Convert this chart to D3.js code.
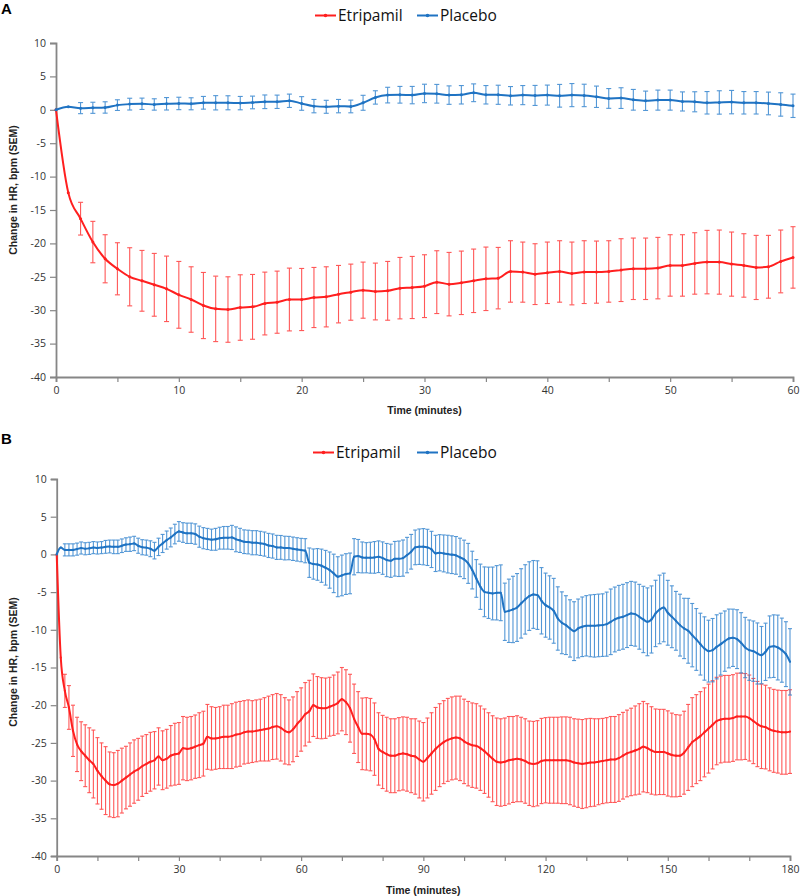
<!DOCTYPE html>
<html><head><meta charset="utf-8">
<script src="https://cdn.jsdelivr.net/npm/d3@7"></script>
<style>body{margin:0;background:#fff} svg{display:block}</style>
</head><body>
<svg id="chart" width="800" height="896"></svg>
<script>
// ---------------- DATA ----------------
const seriesNames = ["Etripamil", "Placebo"];
const yTicks = [-40, -35, -30, -25, -20, -15, -10, -5, 0, 5, 10];

// Panel A: one point per minute, 0..60
const timeA = d3.range(0, 61);
const etriMeanA = [0,-12.4,-16.3,-19.8,-22.3,-23.8,-25.0,-25.6,-26.2,-26.8,-27.7,
 -28.4,-29.3,-29.8,-29.9,-29.6,-29.5,-29.0,-28.8,-28.4,-28.4,
 -28.1,-28.0,-27.6,-27.3,-27.0,-27.2,-27.1,-26.7,-26.6,-26.4,
 -25.8,-26.1,-25.9,-25.6,-25.3,-25.2,-24.2,-24.3,-24.6,-24.4,
 -24.2,-24.5,-24.3,-24.3,-24.2,-24.0,-23.8,-23.8,-23.7,-23.3,
 -23.3,-23.0,-22.8,-22.8,-23.1,-23.3,-23.6,-23.5,-22.7,-22.1];
const etriSemA = [null,null,2.45,3.1,3.6,3.9,4.35,4.55,4.7,4.9,5.0,
 4.9,4.95,4.9,4.9,4.9,4.85,4.7,4.65,4.7,4.65,
 4.5,4.5,4.3,4.2,4.2,4.25,4.4,4.6,4.65,4.7,
 4.7,4.75,4.75,4.75,4.75,4.6,4.6,4.5,4.55,4.6,
 4.6,4.7,4.7,4.65,4.6,4.7,4.6,4.6,4.6,4.6,
 4.6,4.6,4.75,4.8,4.8,4.75,4.8,4.7,4.7,4.6];
const placMeanA = [0,0.45,0.25,0.3,0.35,0.7,0.85,0.9,0.8,0.9,0.95,
 0.9,1.05,1.05,1.05,1.0,1.1,1.2,1.2,1.35,0.95,
 0.55,0.45,0.55,0.5,1.05,1.85,2.2,2.25,2.2,2.45,
 2.4,2.2,2.25,2.55,2.25,2.25,2.1,2.2,2.15,2.2,
 2.1,2.2,2.15,1.95,1.7,1.75,1.5,1.35,1.45,1.45,
 1.25,1.2,1.05,1.1,1.15,1.05,1.05,0.95,0.8,0.6];
const placSemA = [null,null,0.83,0.83,0.85,0.8,0.88,0.85,0.85,0.93,0.93,
 0.9,0.95,1.07,1.05,1.0,0.95,1.02,1.0,1.0,1.02,
 1.0,0.97,1.0,0.95,1.12,1.0,1.17,1.25,1.3,1.38,
 1.4,1.38,1.38,1.33,1.38,1.43,1.38,1.43,1.5,1.5,
 1.7,1.73,1.68,1.6,1.48,1.55,1.55,1.45,1.5,1.5,
 1.43,1.5,1.68,1.75,1.75,1.68,1.68,1.7,1.75,1.75];
const xTicksA = [0,5,10,15,20,25,30,35,40,45,50,55,60];
const xLabelsA = [0,10,20,30,40,50,60];

// Panel B: one point per minute, 0..180
const timeB = d3.range(0, 181);
const etriMeanB = [0,-13.7,-18.1,-20.3,-23.4,-25.2,-26.1,-26.7,-27.3,-27.8,
 -28.7,-29.4,-30.0,-30.5,-30.6,-30.4,-30.0,-29.6,-29.2,-28.8,
 -28.5,-28.1,-27.8,-27.5,-27.3,-26.8,-27.3,-27.1,-26.7,-26.5,
 -26.4,-25.7,-25.8,-25.7,-25.5,-25.3,-25.1,-24.2,-24.4,-24.4,
 -24.3,-24.2,-24.2,-24.1,-23.9,-23.8,-23.6,-23.5,-23.5,-23.4,
 -23.3,-23.2,-23.1,-22.9,-22.8,-23.0,-23.4,-23.6,-23.2,-22.5,
 -21.9,-21.2,-20.8,-20.0,-20.3,-20.4,-20.4,-20.2,-20.0,-19.7,
 -19.2,-19.6,-20.4,-21.8,-22.9,-23.8,-23.8,-23.9,-24.5,-25.8,
 -26.2,-26.5,-26.7,-26.7,-26.5,-26.4,-26.5,-26.7,-26.8,-27.2,
 -27.5,-27.0,-26.4,-25.8,-25.3,-24.9,-24.6,-24.4,-24.3,-24.4,
 -24.8,-25.1,-25.3,-25.4,-25.7,-26.1,-26.6,-27.1,-27.5,-27.6,
 -27.5,-27.3,-27.2,-27.1,-27.2,-27.4,-27.7,-27.8,-27.7,-27.4,
 -27.3,-27.3,-27.3,-27.3,-27.3,-27.3,-27.4,-27.6,-27.7,-27.8,
 -27.7,-27.6,-27.6,-27.5,-27.4,-27.3,-27.2,-27.2,-27.0,-26.7,
 -26.4,-26.2,-26.0,-25.8,-25.5,-25.7,-26.0,-26.2,-26.2,-26.2,
 -26.4,-26.6,-26.7,-26.7,-26.3,-25.6,-24.9,-24.5,-24.1,-23.6,
 -23.1,-22.6,-22.1,-21.9,-21.8,-21.8,-21.7,-21.5,-21.5,-21.5,
 -21.7,-22.1,-22.5,-22.8,-22.9,-23.2,-23.4,-23.5,-23.6,-23.6,
 -23.5];
const etriSemB = [null,null,2.2,2.9,3.4,3.6,3.9,4.1,4.3,4.5,
 4.4,4.4,4.5,4.3,4.3,4.4,4.3,4.15,4.2,4.2,
 4.1,4.0,3.9,3.9,3.8,3.8,3.9,3.9,4.0,4.1,
 4.1,4.2,4.2,4.2,4.2,4.3,4.3,4.3,4.2,4.1,
 4.1,4.2,4.2,4.3,4.3,4.3,4.2,4.2,4.1,4.1,
 4.1,4.2,4.3,4.3,4.35,4.4,4.4,4.3,4.3,4.3,
 4.2,4.2,4.1,4.15,4.1,4.05,4.0,3.9,4.0,4.1,
 4.2,4.3,4.5,4.6,4.7,4.75,4.8,4.8,4.8,4.8,
 4.85,4.9,4.9,4.9,4.85,4.85,4.9,4.9,5.0,5.1,
 5.2,5.3,5.4,5.5,5.5,5.5,5.5,5.5,5.5,5.6,
 5.6,5.6,5.6,5.6,5.6,5.6,5.6,5.7,5.8,5.8,
 5.8,5.8,5.7,5.7,5.6,5.6,5.6,5.65,5.65,5.65,
 5.65,5.7,5.7,5.7,5.75,5.75,5.8,5.8,5.85,5.9,
 5.9,5.85,5.8,5.7,5.65,5.65,5.7,5.7,5.75,5.75,
 5.75,5.8,5.9,6.0,6.0,5.9,5.8,5.7,5.65,5.65,
 5.65,5.55,5.45,5.4,5.5,5.7,5.9,5.9,5.9,5.9,
 5.9,5.85,5.8,5.75,5.75,5.75,5.75,5.75,5.75,5.7,
 5.7,5.65,5.65,5.6,5.55,5.5,5.5,5.5,5.55,5.55,
 5.55];
const placMeanB = [0,0.9,0.6,0.6,0.6,0.7,0.85,0.75,0.8,0.9,
 0.85,0.9,1.0,1.05,1.0,1.0,1.15,1.3,1.35,1.45,
 1.15,0.95,0.9,0.75,0.5,1.0,1.45,1.9,2.25,2.7,
 3.05,2.9,2.8,2.8,2.7,2.35,2.15,2.05,1.95,2.0,
 2.15,2.2,2.2,2.25,2.0,1.86,1.68,1.64,1.55,1.55,
 1.46,1.37,1.19,1.11,0.93,0.93,0.84,0.84,0.75,0.66,
 0.58,0.49,-1.1,-1.28,-1.33,-1.5,-1.77,-2.08,-2.52,-2.96,
 -2.79,-2.61,-2.52,-0.31,-0.22,-0.4,-0.44,-0.44,-0.4,-0.31,
 -0.49,-0.75,-0.84,-0.58,-0.58,-0.49,-0.09,0.35,0.93,1.02,
 1.02,0.93,0.66,0.13,0.22,0.13,0.04,-0.04,-0.13,-0.4,
 -0.66,-1.19,-2.08,-3.19,-4.29,-4.96,-5.09,-5.18,-5.09,-5.09,
 -7.61,-7.48,-7.3,-7.04,-6.5,-5.97,-5.53,-5.31,-5.4,-6.15,
 -6.73,-7.04,-7.48,-8.5,-9.07,-9.38,-9.82,-10.18,-9.82,-9.6,
 -9.47,-9.47,-9.47,-9.42,-9.38,-9.25,-8.94,-8.63,-8.41,-8.27,
 -8.05,-7.83,-7.92,-8.27,-8.63,-8.94,-8.63,-7.83,-7.3,-7.04,
 -7.74,-8.27,-8.81,-9.38,-9.82,-10.13,-10.71,-11.28,-11.9,-12.48,
 -12.83,-12.7,-12.26,-11.9,-11.5,-11.15,-11.06,-11.24,-11.73,-12.35,
 -12.7,-12.83,-13.14,-13.36,-12.92,-12.26,-12.17,-12.35,-12.7,-13.23,
 -14.25];
const placSemB = [null,null,0.8,0.8,0.8,0.8,0.8,0.8,0.8,0.8,
 0.8,0.8,0.85,0.85,0.9,0.9,0.9,0.9,0.95,0.95,
 1.0,1.0,1.0,1.05,1.1,1.15,1.2,1.2,1.25,1.3,
 1.3,1.3,1.35,1.35,1.35,1.4,1.4,1.4,1.4,1.45,
 1.45,1.5,1.5,1.6,1.65,1.6,1.57,1.57,1.6,1.6,
 1.6,1.6,1.6,1.6,1.6,1.58,1.57,1.55,1.55,1.55,
 1.55,1.6,1.95,2.0,2.1,2.2,2.3,2.4,2.55,2.65,
 2.7,2.7,2.7,2.4,2.2,2.05,2.0,2.05,2.1,2.1,
 2.15,2.2,2.2,2.3,2.35,2.4,2.35,2.3,2.3,2.35,
 2.4,2.4,2.4,2.4,2.4,2.45,2.5,2.5,2.5,2.55,
 2.55,2.65,2.5,2.5,3.0,3.3,3.4,3.5,3.6,3.7,
 3.8,4.2,4.4,4.5,4.6,4.6,4.55,4.5,4.55,4.4,
 4.25,4.2,4.3,4.2,4.1,3.9,3.8,3.9,3.9,3.95,
 4.0,4.1,4.15,4.15,4.15,4.25,4.35,4.3,4.3,4.3,
 4.3,4.25,4.25,4.3,4.4,4.5,4.45,4.4,4.55,4.55,
 4.3,4.1,3.9,4.1,4.0,4.3,4.2,4.1,4.1,4.2,
 4.1,4.2,4.25,4.1,4.0,3.9,3.8,3.9,4.0,4.0,
 4.0,4.0,4.05,3.8,3.8,4.1,4.15,4.3,4.25,4.3,
 4.4];
const xTicksB = [0,10,20,30,40,50,60,70,80,90,100,110,120,130,140,150,160,170,180];
const xLabelsB = [0,30,60,90,120,150,180];

// ---------------- DRAWING ----------------
const RED = "#ff1f1f", RED_BAR = "#ff3b3b";
const BLUE = "#1f73c3", BLUE_BAR = "#3585cf";
const AXIS = "#868686";
const svg = d3.select("#chart");

function drawPanel(cfg) {
  const g = svg.append("g");
  const x = d3.scaleLinear().domain(cfg.xDomain).range(cfg.xRange);
  const y = d3.scaleLinear().domain([-40, 10]).range(cfg.yRange);

  // y axis
  const ya = g.append("g").attr("transform", `translate(${cfg.xRange[0]},0)`)
    .call(d3.axisLeft(y).tickValues(yTicks).tickSize(6).tickPadding(4)
      .tickFormat(d => String(d)));
  // x axis
  const xa = g.append("g").attr("transform", `translate(0,${cfg.yRange[0]})`)
    .call(d3.axisBottom(x).tickValues(cfg.xTicks).tickSize(5).tickPadding(5)
      .tickFormat(d => cfg.xLabels.includes(d) ? String(d) : ""));
  [ya, xa].forEach(a => {
    a.select(".domain").attr("stroke", AXIS).attr("stroke-width", 1.8);
    a.selectAll(".tick line").attr("stroke", AXIS).attr("stroke-width", 1.2);
    a.selectAll(".tick text").attr("fill", "#333").attr("font-size", "10.5px")
      .attr("font-family", "'Open Sans', sans-serif");
  });

  // axis titles
  g.append("text").attr("x", (cfg.xRange[0] + cfg.xRange[1]) / 2).attr("y", cfg.xTitleY)
    .attr("text-anchor", "middle").attr("font-family", "'Liberation Sans', Arial, sans-serif")
    .attr("font-weight", "bold").attr("font-size", "10.5px").attr("fill", "#222")
    .text("Time (minutes)");
  g.append("text").attr("transform", `translate(16.5,${cfg.yTitleCY}) rotate(-90)`)
    .attr("text-anchor", "middle").attr("font-family", "'Liberation Sans', Arial, sans-serif")
    .attr("font-weight", "bold").attr("font-size", "10.5px").attr("fill", "#222")
    .text("Change in HR, bpm (SEM)");

  // panel letter
  g.append("text").attr("x", 1).attr("y", cfg.letterY)
    .attr("font-family", "'Liberation Sans', Arial, sans-serif").attr("font-weight", "bold")
    .attr("font-size", "15px").attr("fill", "#000").text(cfg.letter);

  // series
  cfg.series.forEach(s => {
    const pts = cfg.time.map((t, i) => ({t, m: s.mean[i], e: s.sem[i]}));
    const eb = g.append("g").attr("stroke", s.barColor).attr("stroke-width", 1.1)
      .attr("opacity", 0.85);
    pts.filter(p => p.e != null).forEach(p => {
      const xx = x(p.t), y1 = y(p.m + p.e), y2 = y(p.m - p.e);
      eb.append("line").attr("x1", xx).attr("x2", xx).attr("y1", y1).attr("y2", y2);
      eb.append("line").attr("x1", xx - cfg.cap).attr("x2", xx + cfg.cap).attr("y1", y1).attr("y2", y1);
      eb.append("line").attr("x1", xx - cfg.cap).attr("x2", xx + cfg.cap).attr("y1", y2).attr("y2", y2);
    });
    const line = d3.line().x(p => x(p.t)).y(p => y(p.m)).curve(d3.curveMonotoneX);
    g.append("path").datum(pts).attr("d", line).attr("fill", "none")
      .attr("stroke", s.color).attr("stroke-width", 2).attr("stroke-linejoin", "round");
    g.append("g").selectAll("circle").data(pts).join("circle")
      .attr("cx", p => x(p.t)).attr("cy", p => y(p.m)).attr("r", cfg.markerR)
      .attr("fill", s.color);
  });

  // legend
  const lg = g.append("g");
  cfg.series.forEach((s, i) => {
    const lx = cfg.legendX[i];
    lg.append("line").attr("x1", lx).attr("x2", lx + 21).attr("y1", cfg.legendY).attr("y2", cfg.legendY)
      .attr("stroke", s.color).attr("stroke-width", 2);
    lg.append("circle").attr("cx", lx + 10.5).attr("cy", cfg.legendY).attr("r", 1.8).attr("fill", s.color);
    lg.append("text").attr("x", lx + 23).attr("y", cfg.legendY + 5.5)
      .attr("font-family", "'Open Sans', sans-serif").attr("font-size", "15.5px").attr("fill", "#111")
      .text(seriesNames[i]);
  });
}

drawPanel({
  letter: "A", letterY: 14,
  time: timeA, xDomain: [0, 60], xRange: [56, 793], yRange: [377, 43],
  xTicks: xTicksA, xLabels: xLabelsA, xTitleY: 414, yTitleCY: 190,
  legendX: [315, 417], legendY: 15.5, cap: 2.5, markerR: 1.5,
  series: [
    {mean: etriMeanA, sem: etriSemA, color: RED, barColor: RED_BAR},
    {mean: placMeanA, sem: placSemA, color: BLUE, barColor: BLUE_BAR}
  ]
});

drawPanel({
  letter: "B", letterY: 444,
  time: timeB, xDomain: [0, 180], xRange: [56.7, 790], yRange: [856, 479],
  xTicks: xTicksB, xLabels: xLabelsB, xTitleY: 894, yTitleCY: 662,
  legendX: [313, 417], legendY: 452.5, cap: 2, markerR: 1.1,
  series: [
    {mean: etriMeanB, sem: etriSemB, color: RED, barColor: RED_BAR},
    {mean: placMeanB, sem: placSemB, color: BLUE, barColor: BLUE_BAR}
  ]
});
</script>
</body></html>
